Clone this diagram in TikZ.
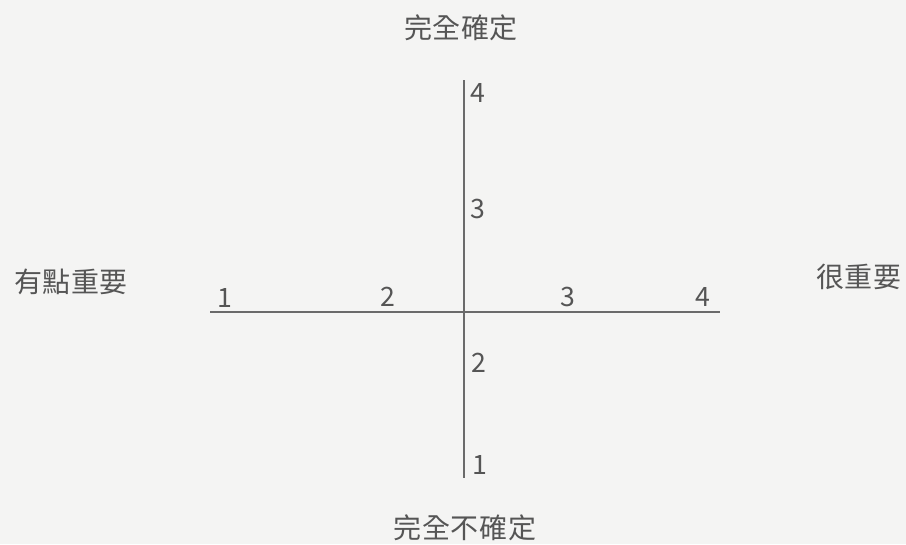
\documentclass[tikz,border=0pt]{standalone}
\usepackage{fontspec}
\newfontfamily\cjk{Noto Sans CJK TC}
\definecolor{bgc}{HTML}{F4F4F3}
\definecolor{ink}{HTML}{555555}
\definecolor{axisc}{HTML}{6A6A6A}
\newcommand{\gap}{\hspace{0.5pt}}
\begin{document}
\begin{tikzpicture}[x=0.75pt,y=-0.75pt,
  lab/.style={font=\cjk\fontsize{21}{24}\selectfont, text=ink, inner sep=0pt},
  num/.style={font=\cjk\fontsize{20}{23}\selectfont, text=ink, inner sep=0pt},
  axisline/.style={draw=axisc, line width=1.3pt}]
\fill[bgc] (0,0) rectangle (906,544);
\useasboundingbox (0,0) rectangle (906,544);
% axes end points
\coordinate (vtop) at (464,80);
\coordinate (vbot) at (464,478);
\coordinate (hl) at (210,312);
\coordinate (hr) at (720,312);
\draw[axisline] (vtop) -- (vbot);
\draw[axisline] (hl) -- (hr);
% labels
\node[lab] (top) at (461,28) {完\gap 全\gap 確\gap 定};
\node[lab] (bot) at (465,528) {完\gap 全\gap 不\gap 確\gap 定};
\node[lab] (left) at (71,282) {有\gap 點\gap 重\gap 要};
\node[lab] (right) at (859,277) {很\gap 重\gap 要};
% horizontal numbers
\node[num] (h1) at (225,298) {1};
\node[num] (h2) at (388,297) {2};
\node[num] (h3) at (568,297) {3};
\node[num] (h4) at (703,297) {4};
% vertical numbers
\node[num] (v4) at (478,93) {4};
\node[num] (v3) at (478,209) {3};
\node[num] (v2) at (479,363) {2};
\node[num] (v1) at (480,465) {1};
\end{tikzpicture}
\end{document}
